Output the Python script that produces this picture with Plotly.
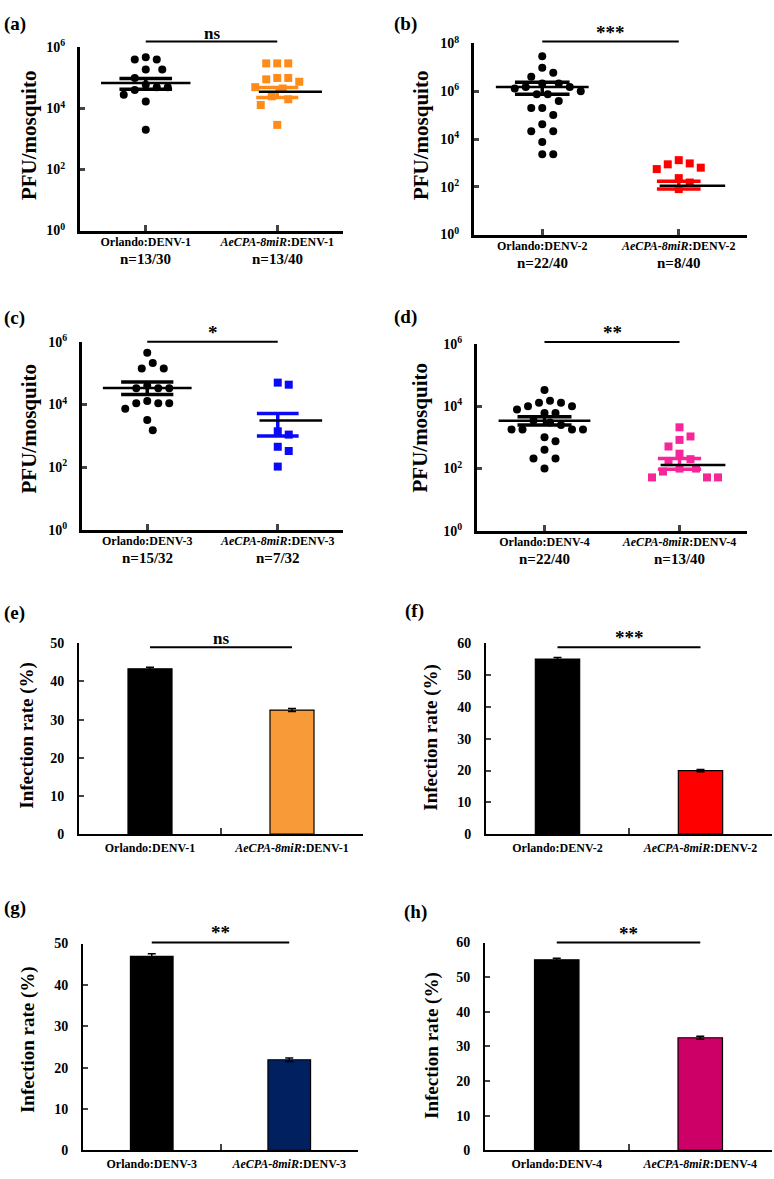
import plotly.graph_objects as go
import numpy as np

W, H = 774, 1179
FONT = "Liberation Serif, Times New Roman, serif"

# ---------------- data (PFU per mosquito) ----------------
a_orlando = [4.8e5, 4.0e5, 4.0e5, 1.9e5, 1.9e5, 1.0e5, 6.0e4, 5.0e4, 5.0e4, 4.0e4, 2.8e4, 1.7e4, 2.0e3]
a_aecpa = [3.0e5, 3.0e5, 3.0e5, 1.0e5, 1.0e5, 9.0e4, 7.5e4, 5.0e4, 4.5e4, 2.5e4, 2.0e4, 1.3e4, 2.9e3]
a_mean = [6.8e4, 3.5e4]
a_sem_lo = [4.3e4, 2.3e4]
a_sem_hi = [9.6e4, 4.9e4]
a_n = ["n=13/30", "n=13/40"]

b_orlando = [2.9e7, 9.6e6, 5.9e6, 4.0e6, 2.1e6, 2.1e6, 1.5e6, 1.5e6, 1.3e6, 1.0e6, 7.5e5,
             7.5e5, 3.9e5, 2.0e5, 2.0e5, 1.0e5, 4.1e4, 2.1e4, 2.1e4, 7.4e3, 2.3e3, 2.3e3]
b_aecpa = [1.3e3, 9.5e2, 8.7e2, 6.3e2, 5.5e2, 2.3e2, 1.5e2, 8.0e1]
b_mean = [1.5e6, 1.1e2]
b_sem_lo = [7.5e5, 8.0e1]
b_sem_hi = [2.4e6, 1.7e2]
b_n = ["n=22/40", "n=8/40"]

c_orlando = [4.5e5, 2.1e5, 1.4e5, 1.4e5, 4.0e4, 3.3e4, 3.3e4, 3.3e4, 1.3e4, 1.1e4, 1.1e4,
             1.1e4, 7.4e3, 3.2e3, 1.5e3]
c_aecpa = [5.0e4, 4.3e4, 1.4e3, 1.1e3, 4.5e2, 3.3e2, 1.05e2]
c_mean = [3.4e4, 3.1e3]
c_sem_lo = [2.1e4, 1.0e3]
c_sem_hi = [5.2e4, 5.2e3]
c_n = ["n=15/32", "n=7/32"]

d_orlando = [3.3e4, 1.5e4, 1.3e4, 1.3e4, 1.0e4, 1.0e4, 7.8e3, 6.0e3, 6.0e3, 3.5e3, 3.0e3,
             2.5e3, 1.8e3, 1.8e3, 1.8e3, 1.8e3, 1.0e3, 7.5e2, 4.0e2, 2.1e2, 2.1e2, 1.0e2]
d_aecpa = [2.1e3, 1.07e3, 8.3e2, 5.1e2, 3.0e2, 2.0e2, 1.6e2, 1.0e2, 1.0e2, 8.0e1, 5.2e1, 5.2e1, 5.2e1]
d_mean = [3.4e3, 1.3e2]
d_sem_lo = [2.5e3, 9.5e1]
d_sem_hi = [4.6e3, 2.1e2]
d_n = ["n=22/40", "n=13/40"]

# ---------------- data (infection rate %) ----------------
e_rate = [43.3, 32.5]
e_err = [0.4, 0.4]
f_rate = [55.0, 20.0]
f_err = [0.5, 0.35]
g_rate = [46.9, 21.9]
g_err = [0.6, 0.45]
h_rate = [55.0, 32.5]
h_err = [0.45, 0.45]

log_ticks_6 = [1, 1e2, 1e4, 1e6]
log_ticks_8 = [1, 1e2, 1e4, 1e6, 1e8]
log_ticktext_6 = ["10<sup>0</sup>", "10<sup>2</sup>", "10<sup>4</sup>", "10<sup>6</sup>"]
log_ticktext_8 = log_ticktext_6 + ["10<sup>8</sup>"]


def group_labels(k):
    return [f"Orlando:DENV-{k}", f"<i>AeCPA-8miR</i>:DENV-{k}"]


# panel boxes in pixels (left, top, right, bottom)
scatter_panels = [
    dict(tag="(a)", box=(80, 38, 343, 224), decades=6, serotype=1, pts=[a_orlando, a_aecpa],
         mean=a_mean, lo=a_sem_lo, hi=a_sem_hi, n=a_n, color="#FF8C1A", sig="ns", sig_y=1.032,
         tag_xy=(2, 14), title_xy=(29, 127)),
    dict(tag="(b)", box=(474, 34, 747, 228), decades=8, serotype=2, pts=[b_orlando, b_aecpa],
         mean=b_mean, lo=b_sem_lo, hi=b_sem_hi, n=b_n, color="#FF0000", sig="***", sig_y=1.01,
         tag_xy=(392, 14), title_xy=(421, 127)),
    dict(tag="(c)", box=(82, 337, 343, 528), decades=6, serotype=3, pts=[c_orlando, c_aecpa],
         mean=c_mean, lo=c_sem_lo, hi=c_sem_hi, n=c_n, color="#0A0AF5", sig="*", sig_y=1.0,
         tag_xy=(2, 313), title_xy=(29, 425)),
    dict(tag="(d)", box=(477, 339, 747, 529), decades=6, serotype=4, pts=[d_orlando, d_aecpa],
         mean=d_mean, lo=d_sem_lo, hi=d_sem_hi, n=d_n, color="#F7259A", sig="**", sig_y=1.01,
         tag_xy=(392, 312), title_xy=(420, 424)),
]

bar_panels = [
    dict(tag="(e)", box=(79, 643, 363, 837), ymax=50, serotype=1, rate=e_rate, err=e_err,
         color="#F99A38", sig="ns", sig_y=0.979, tag_xy=(2, 612), title_xy=(27, 737)),
    dict(tag="(f)", box=(486, 643, 772, 837), ymax=60, serotype=2, rate=f_rate, err=f_err,
         color="#FF0000", sig="***", sig_y=0.979, tag_xy=(403, 610), title_xy=(431, 738)),
    dict(tag="(g)", box=(83, 948, 358, 1158), ymax=50, serotype=3, rate=g_rate, err=g_err,
         color="#002060", sig="**", sig_y=1.005, tag_xy=(2, 912), title_xy=(28, 1046)),
    dict(tag="(h)", box=(485, 947, 772, 1158), ymax=60, serotype=4, rate=h_rate, err=h_err,
         color="#CC0066", sig="**", sig_y=1.0, tag_xy=(402, 916), title_xy=(432, 1052)),
]


def swarm(values, px_per_decade, px_per_unit, diam=11.0):
    """Greedy beeswarm: horizontal offsets (in x units) so markers do not overlap."""
    ys = np.log10(values) * px_per_decade
    order = np.argsort(-ys, kind="stable")
    placed = []
    offs = np.zeros(len(values))
    step = diam / 2
    for i in order:
        k = 0
        while True:
            cands = [0.0] if k == 0 else [k * step, -k * step]
            ok = None
            for c in cands:
                if all((c - px) ** 2 + (ys[i] - py) ** 2 >= diam ** 2 for px, py in placed):
                    ok = c
                    break
            if ok is not None:
                placed.append((ok, ys[i]))
                offs[i] = ok / px_per_unit
                break
            k += 1
    return offs


def dom(box):
    l, t, r, b = box
    return [l / W, r / W], [1 - b / H, 1 - t / H]


def axis_names(i):
    sfx = "" if i == 1 else str(i)
    return "x" + sfx, "y" + sfx, sfx


fig = go.Figure()
annotations = []
shapes = []
bold = dict(family=FONT, color="black", weight="bold")

for idx, p in enumerate(scatter_panels, start=1):
    xa, ya, sfx = axis_names(idx)
    l, t, r, b = p["box"]
    ppd = (b - t) / p["decades"]
    ppu = (r - l) / 2
    colors = ["black", p["color"]]
    symbols = ["circle", "square"]
    for g, vals in enumerate(p["pts"]):
        offs = swarm(vals, ppd, ppu)
        fig.add_trace(go.Scatter(
            x=g + offs, y=vals, mode="markers", xaxis=xa, yaxis=ya,
            marker=dict(color=colors[g], symbol=symbols[g], size=8, line=dict(width=0)),
            cliponaxis=False, showlegend=False))
    for g in range(2):
        w = 0.2 if g == 0 else 0.16
        fig.add_trace(go.Scatter(
            x=[g - w, g + w, None, g - w, g + w, None, g, g],
            y=[p["hi"][g], p["hi"][g], None, p["lo"][g], p["lo"][g], None, p["lo"][g], p["hi"][g]],
            mode="lines", line=dict(color=colors[g], width=3.5), xaxis=xa, yaxis=ya,
            showlegend=False, cliponaxis=False))
        left = 0.34 if g == 0 else 0.14
        fig.add_trace(go.Scatter(
            x=[g - left, g + 0.34], y=[p["mean"][g], p["mean"][g]], mode="lines",
            line=dict(color="black", width=2.5), xaxis=xa, yaxis=ya, showlegend=False,
            cliponaxis=False))
    xd, yd = dom(p["box"])
    ticks = log_ticks_8 if p["decades"] == 8 else log_ticks_6
    ticktext = log_ticktext_8 if p["decades"] == 8 else log_ticktext_6
    fig.update_layout({
        f"xaxis{sfx}": dict(domain=xd, anchor=ya, range=[-0.5, 1.5], tickvals=[0, 1],
                            ticktext=group_labels(p["serotype"]), ticks="inside", ticklen=6,
                            tickwidth=3, showline=True, linewidth=3, linecolor="black",
                            showgrid=False, zeroline=False, ticklabelstandoff=-2,
                            tickfont=dict(size=12, **bold)),
        f"yaxis{sfx}": dict(domain=yd, anchor=xa, type="log", range=[0, p["decades"]],
                            tickvals=ticks, ticktext=ticktext, ticks="inside", ticklen=5,
                            tickwidth=3, showline=True, linewidth=3, linecolor="black",
                            showgrid=False, zeroline=False, ticklabelstandoff=9,
                            tickfont=dict(size=14, **bold)),
    })
    # significance bar
    shapes.append(dict(type="line", xref=xa, yref=f"{ya} domain", x0=0, x1=1,
                       y0=p["sig_y"], y1=p["sig_y"], line=dict(color="black", width=2)))
    annotations.append(dict(text=p["sig"], xref=xa, yref=f"{ya} domain", x=0.5, y=p["sig_y"],
                            yanchor="bottom", showarrow=False, yshift=-3,
                            font=dict(size=17 if p["sig"] == "ns" else 19, **bold)))
    # n= labels
    for g in range(2):
        annotations.append(dict(text=p["n"][g], xref=xa, yref="paper", x=g, y=1 - (b + 29) / H,
                                yanchor="middle", showarrow=False, font=dict(size=15, **bold)))
    annotations.append(dict(text="PFU/mosquito", xref="paper", yref="paper", textangle=-90,
                            x=p["title_xy"][0] / W, y=1 - p["title_xy"][1] / H,
                            xanchor="center", yanchor="middle", showarrow=False,
                            font=dict(size=21, **bold)))
    annotations.append(dict(text=p["tag"], xref="paper", yref="paper", x=p["tag_xy"][0] / W,
                            y=1 - p["tag_xy"][1] / H, xanchor="left", yanchor="middle",
                            showarrow=False, font=dict(size=19, **bold)))

for j, p in enumerate(bar_panels, start=5):
    xa, ya, sfx = axis_names(j)
    cats = group_labels(p["serotype"])
    fig.add_trace(go.Bar(
        x=cats, y=p["rate"], width=0.31, xaxis=xa, yaxis=ya, showlegend=False,
        marker=dict(color=["black", p["color"]], line=dict(color="black", width=1.2)),
        error_y=dict(type="data", array=p["err"], color="black", thickness=1.5, width=4)))
    xd, yd = dom(p["box"])
    fig.update_layout({
        f"xaxis{sfx}": dict(domain=xd, anchor=ya, type="category", tickson="boundaries",
                            ticks="inside", ticklen=6, tickwidth=2, showline=True, linewidth=2,
                            linecolor="black", showgrid=False, ticklabelstandoff=1,
                            tickfont=dict(size=12, **bold)),
        f"yaxis{sfx}": dict(domain=yd, anchor=xa, range=[0, p["ymax"]], dtick=10, ticks="inside",
                            ticklen=5, tickwidth=2, showline=True, linewidth=2, linecolor="black",
                            showgrid=False, zeroline=False, ticklabelstandoff=10,
                            tickfont=dict(size=14, **bold)),
    })
    shapes.append(dict(type="line", xref=xa, yref=f"{ya} domain", x0=0, x1=1,
                       y0=p["sig_y"], y1=p["sig_y"], line=dict(color="black", width=2)))
    annotations.append(dict(text=p["sig"], xref=xa, yref=f"{ya} domain", x=0.5, y=p["sig_y"],
                            yanchor="bottom", showarrow=False, yshift=-3,
                            font=dict(size=17 if p["sig"] == "ns" else 19, **bold)))
    annotations.append(dict(text="Infection rate (%)", xref="paper", yref="paper", textangle=-90,
                            x=p["title_xy"][0] / W, y=1 - p["title_xy"][1] / H,
                            xanchor="center", yanchor="middle", showarrow=False,
                            font=dict(size=19, **bold)))
    annotations.append(dict(text=p["tag"], xref="paper", yref="paper", x=p["tag_xy"][0] / W,
                            y=1 - p["tag_xy"][1] / H, xanchor="left", yanchor="middle",
                            showarrow=False, font=dict(size=19, **bold)))

fig.update_layout(
    width=W, height=H, margin=dict(l=0, r=0, t=0, b=0),
    paper_bgcolor="white", plot_bgcolor="white",
    font=dict(family=FONT, color="black"),
    annotations=annotations, shapes=shapes, showlegend=False,
)

# the page's default body margin would push the fixed-size figure off its 774x1179 window
fig.write_html("out.html", config={"displayModeBar": False},
               post_script="document.body.style.margin='0';")
